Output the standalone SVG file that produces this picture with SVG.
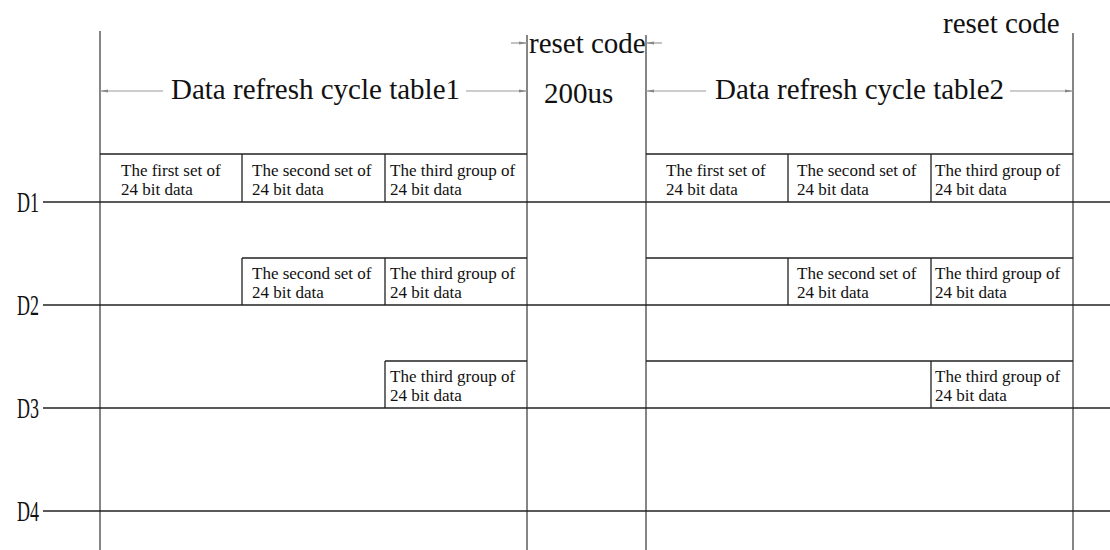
<svg xmlns="http://www.w3.org/2000/svg" width="1110" height="550" viewBox="0 0 1110 550">
<defs>
<style>
.big{font-family:"Liberation Serif","Times New Roman",serif;font-size:29px;fill:#111}
.dl{font-family:"Liberation Serif","Times New Roman",serif;font-size:29px;fill:#111}
.sm{font-family:"Liberation Serif","Times New Roman",serif;font-size:17px;fill:#111}
.ln{stroke:#222;stroke-width:1.3;fill:none}
.vl{stroke:#444;stroke-width:1.3;fill:none}
.dim{stroke:#999;stroke-width:1.2;fill:none}
</style>
<marker id="ah" viewBox="0 0 8 4" refX="8" refY="2" markerWidth="8" markerHeight="4" markerUnits="userSpaceOnUse" orient="auto">
<path d="M0,0.5 L8,2 L0,3.5 z" fill="#888"/>
</marker>
</defs>
<rect width="1110" height="550" fill="#fff"/>

<g id="connectors">
<line class="vl" x1="100" y1="31" x2="100" y2="550"/>
<line class="vl" x1="527" y1="35" x2="527" y2="550"/>
<line class="vl" x1="646" y1="35" x2="646" y2="550"/>
<line class="vl" x1="1073" y1="33" x2="1073" y2="550"/>
<line class="ln" x1="43" y1="202" x2="1110" y2="202"/>
<line class="ln" x1="43" y1="305" x2="1110" y2="305"/>
<line class="ln" x1="43" y1="408" x2="1110" y2="408"/>
<line class="ln" x1="43" y1="511" x2="1110" y2="511"/>
<line class="dim" x1="163" y1="91" x2="100" y2="91" marker-end="url(#ah)"/>
<line class="dim" x1="466" y1="91" x2="527" y2="91" marker-end="url(#ah)"/>
<line class="dim" x1="706" y1="91" x2="646" y2="91" marker-end="url(#ah)"/>
<line class="dim" x1="1010" y1="91" x2="1073" y2="91" marker-end="url(#ah)"/>
<line class="dim" x1="511" y1="43" x2="527" y2="43" marker-end="url(#ah)"/>
<line class="dim" x1="662" y1="43" x2="646" y2="43" marker-end="url(#ah)"/>
</g>

<g id="labels">
<text class="dl" x="17" y="212" textLength="22" lengthAdjust="spacingAndGlyphs">D1</text>
<text class="dl" x="17" y="315" textLength="22" lengthAdjust="spacingAndGlyphs">D2</text>
<text class="dl" x="17" y="418" textLength="22" lengthAdjust="spacingAndGlyphs">D3</text>
<text class="dl" x="17" y="521" textLength="22" lengthAdjust="spacingAndGlyphs">D4</text>
<text class="big" x="171" y="99">Data refresh cycle table1</text>
<text class="big" x="715" y="99">Data refresh cycle table2</text>
<text class="big" x="529" y="53">reset code</text>
<text class="big" x="544" y="103">200us</text>
<text class="big" x="943" y="33">reset code</text>
</g>

<g id="table1-D1">
<path class="ln" d="M100,154 H527 M242,154 V202 M385,154 V202"/>
<text class="sm" x="121" y="176">The first set of</text>
<text class="sm" x="121" y="195"> 24 bit data</text>
<text class="sm" x="252" y="176">The second set of</text>
<text class="sm" x="252" y="195">24 bit data</text>
<text class="sm" x="390" y="176">The third group of</text>
<text class="sm" x="390" y="195">24 bit data</text>
</g>
<g id="table1-D2">
<path class="ln" d="M242,258 H527 M242,258 V305 M385,258 V305"/>
<text class="sm" x="252" y="279">The second set of</text>
<text class="sm" x="252" y="298">24 bit data</text>
<text class="sm" x="390" y="279">The third group of</text>
<text class="sm" x="390" y="298">24 bit data</text>
</g>
<g id="table1-D3">
<path class="ln" d="M385,361 H527 M385,361 V408"/>
<text class="sm" x="390" y="382">The third group of</text>
<text class="sm" x="390" y="401">24 bit data</text>
</g>

<g id="table2-D1">
<path class="ln" d="M646,154 H1073 M788,154 V202 M931,154 V202"/>
<text class="sm" x="666" y="176">The first set of</text>
<text class="sm" x="666" y="195">24 bit data</text>
<text class="sm" x="797" y="176">The second set of</text>
<text class="sm" x="797" y="195">24 bit data</text>
<text class="sm" x="935" y="176">The third group of</text>
<text class="sm" x="935" y="195">24 bit data</text>
</g>
<g id="table2-D2">
<path class="ln" d="M646,258 H1073 M788,258 V305 M931,258 V305"/>
<text class="sm" x="797" y="279">The second set of</text>
<text class="sm" x="797" y="298">24 bit data</text>
<text class="sm" x="935" y="279">The third group of</text>
<text class="sm" x="935" y="298">24 bit data</text>
</g>
<g id="table2-D3">
<path class="ln" d="M646,361 H1073 M931,361 V408"/>
<text class="sm" x="935" y="382">The third group of</text>
<text class="sm" x="935" y="401">24 bit data</text>
</g>
</svg>
